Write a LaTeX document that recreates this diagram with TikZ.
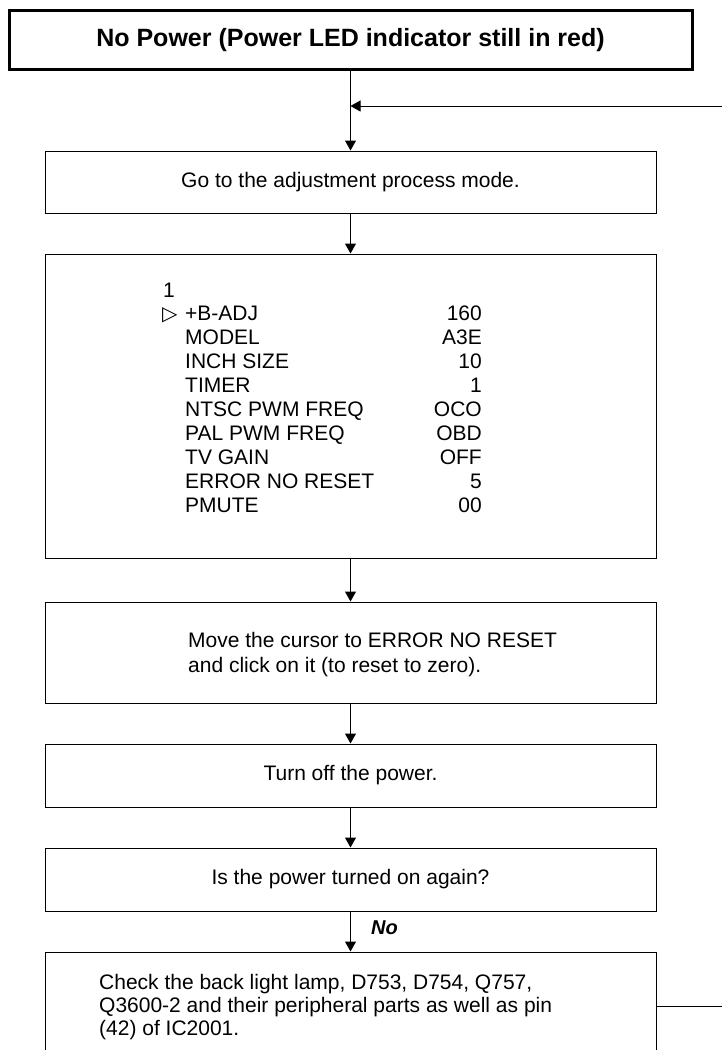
\documentclass[tikz,border=0pt]{standalone}
\usepackage{fontspec}
\setmainfont{Liberation Sans}
\newfontfamily\symfont{DejaVu Sans}
\usetikzlibrary{arrows.meta}
\tikzset{
  box/.style={draw, line width=1pt, minimum width=611pt, inner sep=0pt, font=\fontsize{21}{23}\selectfont},
  titlebox/.style={draw, line width=3pt, minimum width=683pt, minimum height=59pt, inner sep=0pt, font=\fontsize{25}{30}\selectfont\bfseries},
  txt/.style={inner sep=0pt, align=left, font=\fontsize{21}{23}\selectfont},
  flow/.style={line width=1pt, -{Triangle[length=10pt,width=11pt]}}
}

\begin{document}
\begin{tikzpicture}[x=1pt, y=-1pt]
\useasboundingbox (0,0) rectangle (722,1050);

\node[titlebox] (title) at (350.5,40) {No Power (Power LED indicator still in red)};

\node[box, minimum height=62pt] (adjust) at (350.5,182) {Go to the adjustment process mode.};
\node[box, minimum height=304pt] (menu) at (350.5,406) {};
\node[box, minimum height=101pt] (cursor) at (350.5,652.5) {};
\node[box, minimum height=63pt] (off) at (350.5,775.5) {Turn off the power.};
\node[box, minimum height=63pt] (again) at (350.5,879.5) {Is the power turned on again?};
\node[box, minimum height=120pt] (check) at (350.5,1012) {};

% menu page
\begin{scope}[every node/.style={txt}]
    \node[anchor=base west] (page) at (163,297.5) {1};
    \node[anchor=base west, font=\fontsize{20}{23}\symfont] (cur) at (162,320.5) {▷};
    \node[anchor=base west] (badj) at (185,320.5) {+B-ADJ};
    \node[anchor=base east] (badjv) at (482,320.5) {160};
    \node[anchor=base west] (model) at (185,344.5) {MODEL};
    \node[anchor=base east] (modelv) at (482,344.5) {A3E};
    \node[anchor=base west] (inch) at (185,368.5) {INCH SIZE};
    \node[anchor=base east] (inchv) at (482,368.5) {10};
    \node[anchor=base west] (timer) at (185,392.5) {TIMER};
    \node[anchor=base east] (timerv) at (482,392.5) {1};
    \node[anchor=base west] (ntsc) at (185,416.5) {NTSC PWM FREQ};
    \node[anchor=base east] (ntscv) at (482,416.5) {OCO};
    \node[anchor=base west] (pal) at (185,440.5) {PAL PWM FREQ};
    \node[anchor=base east] (palv) at (482,440.5) {OBD};
    \node[anchor=base west] (gain) at (185,464.5) {TV GAIN};
    \node[anchor=base east] (gainv) at (482,464.5) {OFF};
    \node[anchor=base west] (errno) at (185,488.5) {ERROR NO RESET};
    \node[anchor=base east] (errnov) at (482,488.5) {5};
    \node[anchor=base west] (pmute) at (185,512.5) {PMUTE};
    \node[anchor=base east] (pmutev) at (482,512.5) {00};
\end{scope}

\node[txt, anchor=north west, font=\fontsize{21}{25}\selectfont] (cursortxt) at (188,632) {Move the cursor to ERROR NO RESET\\and click on it (to reset to zero).};
\node[txt, anchor=north west] (checktxt) at (99,974) {Check the back light lamp, D753, D754, Q757,\\Q3600-2 and their peripheral parts as well as pin\\(42) of IC2001.};

\node[anchor=west, inner sep=0pt, font=\fontsize{20}{24}\selectfont\bfseries\itshape] (no) at (371,928) {No};

\draw[flow] (title) -- (adjust);
\draw[flow] (adjust) -- (menu);
\draw[flow] (menu) -- (cursor);
\draw[flow] (cursor) -- (off);
\draw[flow] (off) -- (again);
\draw[flow] (again) -- (check);

% loop back
\coordinate (backin) at (722,106);
\coordinate (backout) at (722,1006);
\draw[flow] (backin) -- (backin -| title.south);
\draw[line width=1pt] (check.east |- backout) -- (backout);
\end{tikzpicture}
\end{document}
